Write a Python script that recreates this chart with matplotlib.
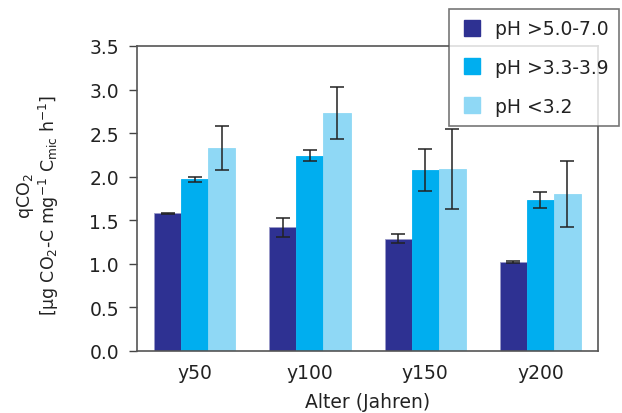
import numpy as np
import matplotlib
matplotlib.use("Agg")
from matplotlib import pyplot as plt
from matplotlib.lines import Line2D

plt.rcParams['font.family'] = ['DejaVu Sans']
plt.rcParams['mathtext.default'] = 'regular'

# Daten
groups = ["y50", "y100", "y150", "y200"]
labels = ["pH >5.0-7.0", "pH >3.3-3.9", "pH <3.2"]
means_high = [1.58, 1.42, 1.29, 1.02]
err_high = [0.005, 0.11, 0.05, 0.008]
means_mid = [1.97, 2.24, 2.08, 1.73]
err_mid = [0.03, 0.065, 0.24, 0.09]
means_low = [2.33, 2.73, 2.09, 1.80]
err_low = [0.25, 0.30, 0.46, 0.38]

colors = ["#2E3192", "#00AEEF", "#8FD8F5"]
txt = "#222222"

fig = plt.figure(figsize=(6.22, 4.14), dpi=100)
ax = fig.add_axes([0.2203, 0.1498, 0.7411, 0.7367])

x = np.arange(len(groups))
w = 0.235
series = [(means_high, err_high), (means_mid, err_mid), (means_low, err_low)]
for i, (m, e) in enumerate(series):
    pos = x + (i - 1) * w
    ax.bar(pos, m, width=w, color=colors[i], edgecolor="#9a9ac8" if i == 0 else colors[i],
           linewidth=0.6, zorder=2)
    ax.errorbar(pos, m, yerr=e, fmt="none", ecolor="#222222", elinewidth=1.1,
                capsize=5, capthick=1.1, zorder=3)

ax.set_xlim(-0.5, 3.5)
ax.set_ylim(0, 3.5)
ax.set_yticks(np.arange(0, 3.51, 0.5))
ax.set_yticklabels(["%.1f" % v for v in np.arange(0, 3.51, 0.5)], fontsize=13.5, color=txt)
ax.set_xticks(x)
ax.set_xticklabels(groups, fontsize=13.5, color=txt)
ax.tick_params(axis="x", length=0, pad=9)
ax.tick_params(axis="y", length=6, width=1, color="#444444", pad=7)
for s in ax.spines.values():
    s.set_color("#555555")
    s.set_linewidth(1.2)

ax.set_xlabel("Alter (Jahren)", fontsize=13.5, color=txt, labelpad=7)

# y-Achsenbeschriftung, zwei Zeilen
fig.text(25 / 622, 1 - 196 / 414, "qCO$_2$", rotation=90, ha="center", va="center",
         fontsize=12.5, color=txt)
fig.text(49 / 622, 1 - 205 / 414, "[µg CO$_2$-C mg$^{-1}$ C$_{mic}$ h$^{-1}$]", rotation=90,
         ha="center", va="center", fontsize=12.5, color=txt)

handles = [Line2D([], [], marker="s", linestyle="none", markersize=11.5,
                  markerfacecolor=c, markeredgecolor=c) for c in colors]
leg = fig.legend(handles, labels, loc="upper right", bbox_to_anchor=(0.995, 0.976),
                 fontsize=13.5, frameon=True, fancybox=False, borderpad=0.55,
                 labelspacing=1.05, handletextpad=0.6, handlelength=1.3,
                 borderaxespad=0)
leg.get_frame().set_edgecolor("#555555")
leg.get_frame().set_linewidth(1.2)
for t in leg.get_texts():
    t.set_color(txt)

fig.savefig("out.png", dpi=100)
